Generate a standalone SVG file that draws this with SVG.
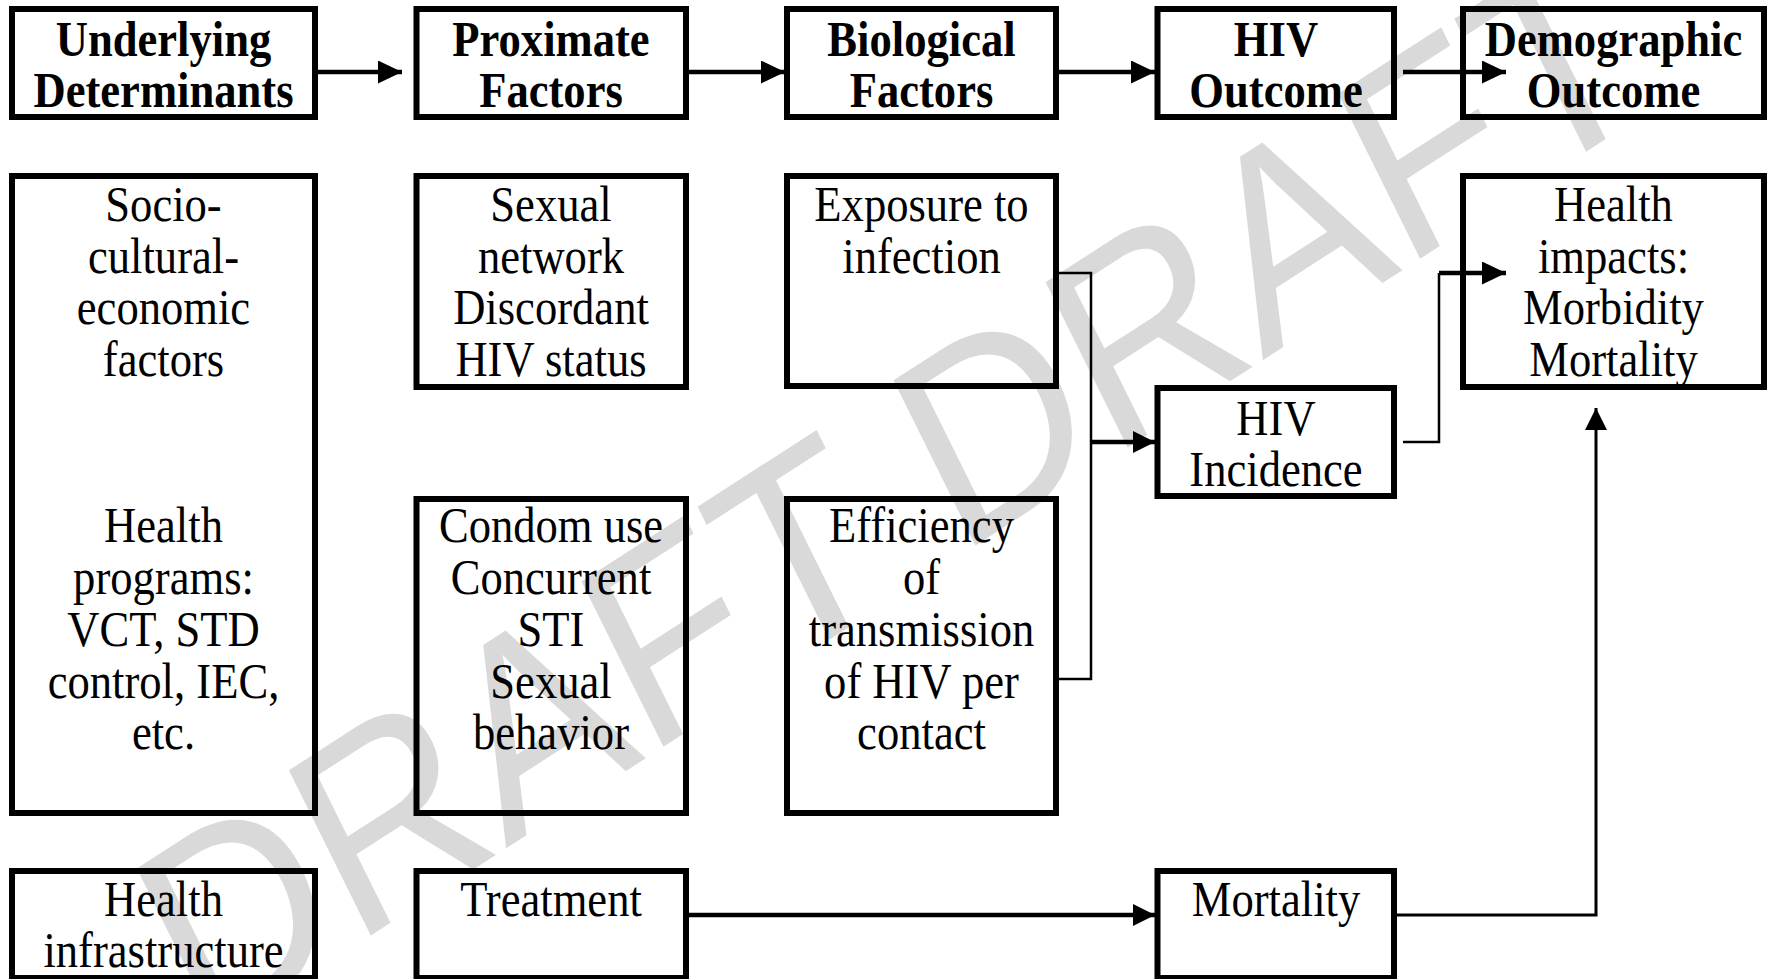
<svg xmlns="http://www.w3.org/2000/svg" width="1767" height="979" viewBox="0 0 1767 979">
  <style>
    .box { fill: none; stroke: #000; stroke-width: 6; }
    .hd { font-family: "Liberation Serif", "Times New Roman", serif; font-weight: bold; font-size: 44.6px; text-anchor: middle; fill: #000; }
    .tx { font-family: "Liberation Serif", "Times New Roman", serif; font-size: 44.6px; text-anchor: middle; fill: #000; }
    .wm { font-family: "Liberation Sans", Arial, sans-serif; font-size: 242px; text-anchor: middle; fill: #d9d9d9; }
    .thick { fill: none; stroke: #000; stroke-width: 4.5; }
    .thin { fill: none; stroke: #000; stroke-width: 2.5; }
    .mid { fill: none; stroke: #000; stroke-width: 3; }
  </style>
  <defs>
    <marker id="head" markerUnits="userSpaceOnUse" markerWidth="24" markerHeight="24" refX="24" refY="11.5" orient="auto">
      <path d="M0,0 L24,11.5 L0,23 Z" fill="#000"/>
    </marker>
    <marker id="headS" markerUnits="userSpaceOnUse" markerWidth="24" markerHeight="24" refX="22" refY="11" orient="auto">
      <path d="M0,0 L22,11 L0,22 Z" fill="#000"/>
    </marker>
  </defs>

  <rect width="1767" height="979" fill="#fff"/>

  <!-- watermark -->
  <g id="watermark" transform="translate(888,488) scale(1,1.14) rotate(-29.5)">
    <text class="wm" x="0" y="87">DRAFT DRAFT</text>
  </g>

  <!-- header row -->
  <g id="underlying">
    <rect class="box" x="12" y="9" width="303" height="108"/>
    <g transform="scale(1,1.12)">
      <text class="hd" x="163.5" y="50">Underlying</text>
      <text class="hd" x="163.5" y="95.5">Determinants</text>
    </g>
  </g>
  <g id="proximate">
    <rect class="box" x="416.5" y="9" width="269.5" height="108"/>
    <g transform="scale(1,1.12)">
      <text class="hd" x="551" y="50">Proximate</text>
      <text class="hd" x="551" y="95.5">Factors</text>
    </g>
  </g>
  <g id="biological">
    <rect class="box" x="787" y="9" width="269" height="108"/>
    <g transform="scale(1,1.12)">
      <text class="hd" x="921.5" y="50">Biological</text>
      <text class="hd" x="921.5" y="95.5">Factors</text>
    </g>
  </g>
  <g id="hiv-outcome">
    <rect class="box" x="1157.5" y="9" width="236.5" height="108"/>
    <g transform="scale(1,1.12)">
      <text class="hd" x="1276" y="50">HIV</text>
      <text class="hd" x="1276" y="95.5">Outcome</text>
    </g>
  </g>
  <g id="demographic">
    <rect class="box" x="1463" y="9" width="301" height="108"/>
    <g transform="scale(1,1.12)">
      <text class="hd" x="1613.5" y="50">Demographic</text>
      <text class="hd" x="1613.5" y="95.5">Outcome</text>
    </g>
  </g>

  <!-- underlying determinants column -->
  <g id="socio">
    <rect class="box" x="12" y="176" width="303" height="637"/>
    <g transform="scale(1,1.12)">
      <text class="tx" x="163.5" y="197.3">Socio-</text>
      <text class="tx" x="163.5" y="243.75">cultural-</text>
      <text class="tx" x="163.5" y="289.7">economic</text>
      <text class="tx" x="163.5" y="335.7">factors</text>
      <text class="tx" x="163.5" y="483.9">Health</text>
      <text class="tx" x="163.5" y="530.4">programs:</text>
      <text class="tx" x="163.5" y="576.8">VCT, STD</text>
      <text class="tx" x="163.5" y="622.8">control, IEC,</text>
      <text class="tx" x="163.5" y="668.75">etc.</text>
    </g>
  </g>
  <g id="infrastructure">
    <rect class="box" x="12" y="871" width="303" height="107"/>
    <g transform="scale(1,1.12)">
      <text class="tx" x="163.5" y="817.9">Health</text>
      <text class="tx" x="163.5" y="863.4">infrastructure</text>
    </g>
  </g>

  <!-- proximate factors column -->
  <g id="sexual-network">
    <rect class="box" x="416.5" y="176" width="269.5" height="211"/>
    <g transform="scale(1,1.12)">
      <text class="tx" x="551" y="197.3">Sexual</text>
      <text class="tx" x="551" y="243.75">network</text>
      <text class="tx" x="551" y="289.7">Discordant</text>
      <text class="tx" x="551" y="335.7">HIV status</text>
    </g>
  </g>
  <g id="condom">
    <rect class="box" x="416.5" y="499" width="269.5" height="314"/>
    <g transform="scale(1,1.12)">
      <text class="tx" x="551" y="483.9">Condom use</text>
      <text class="tx" x="551" y="530.4">Concurrent</text>
      <text class="tx" x="551" y="576.8">STI</text>
      <text class="tx" x="551" y="622.8">Sexual</text>
      <text class="tx" x="551" y="668.75">behavior</text>
    </g>
  </g>
  <g id="treatment">
    <rect class="box" x="416.5" y="871" width="269.5" height="107"/>
    <g transform="scale(1,1.12)">
      <text class="tx" x="551" y="817.9">Treatment</text>
    </g>
  </g>

  <!-- biological factors column -->
  <g id="exposure">
    <rect class="box" x="787" y="176" width="269" height="210"/>
    <g transform="scale(1,1.12)">
      <text class="tx" x="921.5" y="197.3">Exposure to</text>
      <text class="tx" x="921.5" y="243.75">infection</text>
    </g>
  </g>
  <g id="efficiency">
    <rect class="box" x="787" y="499" width="269" height="314"/>
    <g transform="scale(1,1.12)">
      <text class="tx" x="921.5" y="483.9">Efficiency</text>
      <text class="tx" x="921.5" y="530.4">of</text>
      <text class="tx" x="921.5" y="576.8">transmission</text>
      <text class="tx" x="921.5" y="622.8">of HIV per</text>
      <text class="tx" x="921.5" y="668.75">contact</text>
    </g>
  </g>

  <!-- HIV outcome column -->
  <g id="incidence">
    <rect class="box" x="1157.5" y="388" width="236.5" height="108"/>
    <g transform="scale(1,1.12)">
      <text class="tx" x="1276" y="388.4">HIV</text>
      <text class="tx" x="1276" y="433.9">Incidence</text>
    </g>
  </g>
  <g id="mortality">
    <rect class="box" x="1157.5" y="871" width="236.5" height="107"/>
    <g transform="scale(1,1.12)">
      <text class="tx" x="1276" y="817.9">Mortality</text>
    </g>
  </g>

  <!-- demographic outcome column -->
  <g id="health-impacts">
    <rect class="box" x="1463" y="176" width="301" height="211"/>
    <g transform="scale(1,1.12)">
      <text class="tx" x="1613.5" y="197.3">Health</text>
      <text class="tx" x="1613.5" y="243.75">impacts:</text>
      <text class="tx" x="1613.5" y="289.7">Morbidity</text>
      <text class="tx" x="1613.5" y="335.7">Mortality</text>
    </g>
  </g>

  <!-- connectors -->
  <g id="connectors">
    <path class="thick" d="M318,72 H402" marker-end="url(#head)"/>
    <path class="thick" d="M689,72 H785" marker-end="url(#head)"/>
    <path class="thick" d="M1059,72 H1155" marker-end="url(#head)"/>
    <path class="thick" d="M1403,72 H1506" marker-end="url(#head)"/>
    <path class="thin" d="M1059,273 H1091 V679 H1059"/>
    <path class="thick" d="M1091,442 H1155" marker-end="url(#headS)"/>
    <path class="thin" d="M1403,442 H1439 V273"/>
    <path class="thick" d="M1439,273 H1506" marker-end="url(#head)"/>
    <path class="thick" d="M689,915 H1155" marker-end="url(#headS)"/>
    <path class="mid" d="M1397,915 H1596 V408" marker-end="url(#headS)"/>
  </g>
</svg>
